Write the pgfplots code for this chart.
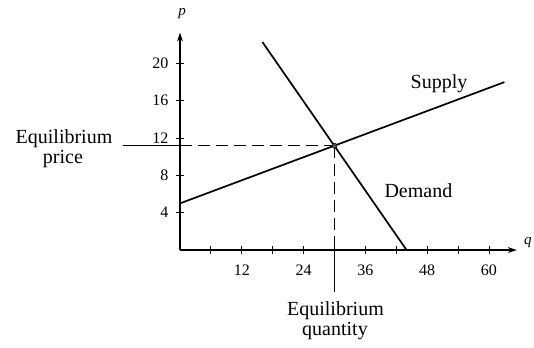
\documentclass[border=0pt]{standalone}
\usepackage{pgfplots}
\pgfplotsset{compat=1.18}
\usepackage{fontspec}
\setmainfont{Liberation Serif}
\usetikzlibrary{arrows.meta}
\begin{document}
\begin{tikzpicture}
\begin{axis}[
  x=5.15pt, y=9.33pt,
  xmin=0, xmax=65.4, ymin=0, ymax=23.3,
  axis lines=left,
  axis line style={line width=1.1pt, -{Stealth[length=9pt,width=6pt]}},
  clip=false,
  xtick={6,12,...,60},
  xticklabels={,12,,24,,36,,48,,60},
  ytick={4,8,...,20},
  tick align=center,
  major tick length=8pt,
  tick style={line width=0.9pt, black},
  tick label style={font=\fontsize{16}{16}\selectfont},
  xticklabel style={yshift=-7pt},
  yticklabel style={xshift=-4pt},
  /pgf/number format/assume math mode=true,
]
% invisible bounding box matching reference margins
\path (axis cs:-34.95,26.8) rectangle (axis cs:68.74,-10.4);
% supply and demand
\addplot[black, line width=1.7pt] coordinates {(0,5) (63,18)};
\addplot[black, line width=1.7pt] coordinates {(16,22.3) (44,0)};
% equilibrium guides
\addplot[black, line width=0.7pt, dash pattern=on 12pt off 6pt] coordinates {(0,11.18) (30,11.18)};
\addplot[black, line width=0.7pt, dash pattern=on 12pt off 6pt] coordinates {(30,11.18) (30,0)};
\addplot[black, line width=0.8pt] coordinates {(-11.07,11.18) (0,11.18)};
\addplot[black, line width=0.8pt] coordinates {(30,0) (30,-4.5)};
\addplot[only marks, mark=*, mark size=2.6pt, fill=black!70, draw=black] coordinates {(30,11.18)};
% labels
\node[anchor=base, font=\fontsize{20}{22}\selectfont] at (axis cs:-22.52,11.47) {Equilibrium};
\node[anchor=base, font=\fontsize{20}{22}\selectfont] at (axis cs:-22.72,9.32) {price};
\node[anchor=base, font=\fontsize{20}{22}\selectfont] at (axis cs:30.19,-6.97) {Equilibrium};
\node[anchor=base, font=\fontsize{20}{22}\selectfont] at (axis cs:30.1,-9.11) {quantity};
\node[anchor=base, font=\fontsize{20}{22}\selectfont] at (axis cs:50.29,17.36) {Supply};
\node[anchor=base, font=\fontsize{20}{22}\selectfont] at (axis cs:46.3,5.68) {Demand};
\node[font=\fontsize{15}{15}\selectfont\itshape] at (axis cs:0.4,25.3) {p};
\node[anchor=west, inner sep=0pt, font=\fontsize{15}{15}\selectfont\itshape] at (axis cs:66.8,0.75) {q};
\end{axis}
\end{tikzpicture}
\end{document}
